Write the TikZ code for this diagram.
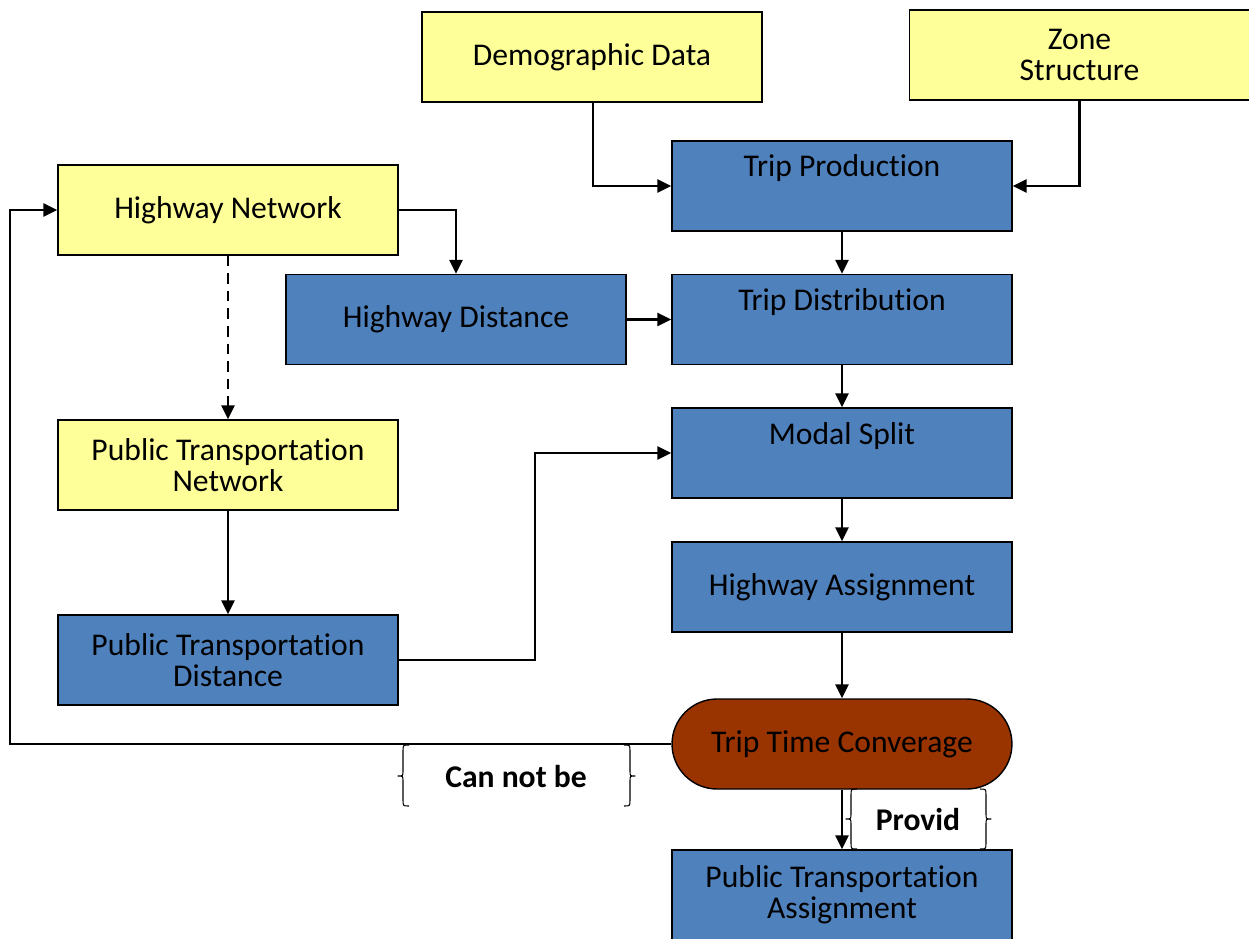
\documentclass[tikz,border=0pt]{standalone}
\usepackage{fontspec}
\setmainfont{Carlito}[Ligatures={NoCommon}]
\usetikzlibrary{arrows.meta}
\definecolor{yel}{HTML}{FFFF99}
\definecolor{blu}{HTML}{4F81BD}
\definecolor{brn}{HTML}{993300}
\begin{document}
\begin{tikzpicture}[x=0.02cm,y=-0.02cm,
  every node/.style={font=\fontsize{18}{17.6}\selectfont, align=center},
  box/.style={draw=black, line width=0.8pt, minimum width=6.8cm, minimum height=1.8cm, inner sep=0pt},
  ybox/.style={box, fill=yel},
  bbox/.style={box, fill=blu},
  conn/.style={line width=1.25pt, -{Triangle[length=8pt,width=7.5pt]}},
  brace/.style={line width=0.6pt, line join=round},
  blbl/.style={font=\fontsize{18}{17.6}\selectfont\bfseries}
]
\useasboundingbox (0,0) rectangle (1249,938);
% yellow input boxes
\node[ybox] (demo) at (592,57) {Demographic Data};
\node[ybox] (zone) at (1079.5,55) {Zone\\Structure};
\node[ybox] (hwnet) at (228,210) {Highway Network};
\node[ybox] (ptnet) at (228,465) {Public Transportation\\Network};
% blue boxes
\node[bbox, label={[yshift=0.35cm]center:Trip Production}] (prod) at (842,186) {};
\node[bbox] (hwdist) at (456,319.5) {Highway Distance};
\node[bbox, label={[yshift=0.34cm]center:Trip Distribution}] (distr) at (842,319.5) {};
\node[bbox, label={[yshift=0.33cm]center:Modal Split}] (modal) at (842,453) {};
\node[bbox] (hwassign) at (842,587) {Highway Assignment};
\node[bbox] (ptdist) at (228,660) {Public Transportation\\Distance};
\node[draw=black, line width=0.8pt, fill=brn, minimum width=6.8cm, minimum height=1.8cm, rounded corners=0.9cm, inner sep=0pt] (conv) at (842,744) {Trip Time Converage};
\node[bbox] (ptassign) at (842,895) {Public Transportation\\Assignment};
% connectors
\draw[conn] (demo.south -| 593,0) |- (prod.west |- 0,186);
\draw[conn] (zone.south) |- (prod.east);
\draw[conn] (prod) -- (distr);
\draw[conn] (hwnet.east) -| (hwdist.north);
\draw[conn] (hwdist.east) -- (distr.west |- hwdist.east);
\draw[conn, dash pattern=on 6pt off 4pt] (hwnet) -- (ptnet);
\draw[conn] (distr) -- (modal);
\draw[conn] (ptnet) -- (ptdist);
\coordinate (m1) at (535,660);
\draw[conn] (ptdist.east) -- (m1) |- (modal.west);
\draw[conn] (modal) -- (hwassign);
\draw[conn] (hwassign) -- (conv);
\coordinate (c1) at (10,744);
\draw[conn] (conv.west) -- (c1) |- (hwnet.west);
\draw[conn] (conv.south) -- (ptassign.north);
% brace labels
\node[blbl] (cannot) at (516,777) {Can not be};
\node[blbl] (provid) at (918,820) {Provid};
\draw[brace] (409,745) .. controls (403,745) .. (403,751) -- (403,771) .. controls (403,776) .. (398,776) .. controls (403,776) .. (403,781) -- (403,800) .. controls (403,806) .. (409,806);
\draw[brace] (624,745) .. controls (630,745) .. (630,751) -- (630,771) .. controls (630,776) .. (635,776) .. controls (630,776) .. (630,781) -- (630,800) .. controls (630,806) .. (624,806);
\draw[brace] (857,789) .. controls (851,789) .. (851,795) -- (851,814) .. controls (851,819) .. (846,819) .. controls (851,819) .. (851,824) -- (851,843) .. controls (851,849) .. (857,849);
\draw[brace] (980,789) .. controls (986,789) .. (986,795) -- (986,814) .. controls (986,819) .. (991,819) .. controls (986,819) .. (986,824) -- (986,843) .. controls (986,849) .. (980,849);
\end{tikzpicture}
\end{document}
